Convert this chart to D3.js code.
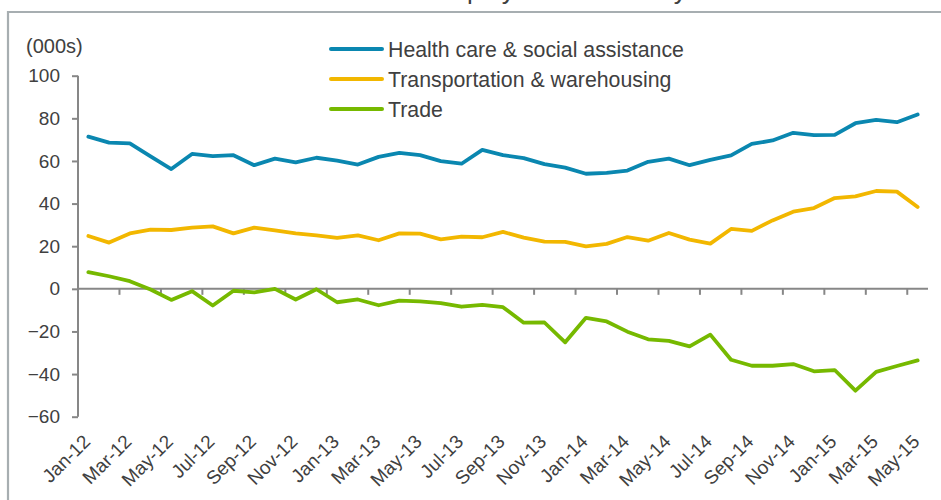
<!DOCTYPE html>
<html><head><meta charset="utf-8">
<script src="https://cdn.jsdelivr.net/npm/d3@7"></script>
<style>html,body{margin:0;padding:0;background:#fff;} svg{display:block;font-family:"Liberation Sans",Arial,sans-serif;}</style>
</head><body><svg id="c" width="941" height="500"></svg>
<script>
const categories = ["Jan-12","Feb-12","Mar-12","Apr-12","May-12","Jun-12","Jul-12","Aug-12","Sep-12","Oct-12","Nov-12","Dec-12",
"Jan-13","Feb-13","Mar-13","Apr-13","May-13","Jun-13","Jul-13","Aug-13","Sep-13","Oct-13","Nov-13","Dec-13",
"Jan-14","Feb-14","Mar-14","Apr-14","May-14","Jun-14","Jul-14","Aug-14","Sep-14","Oct-14","Nov-14","Dec-14",
"Jan-15","Feb-15","Mar-15","Apr-15","May-15"];
const health = [71.4,68.6,68.2,62.1,56.2,63.3,62.3,62.7,58.0,61.1,59.3,61.5,60.1,58.3,61.9,63.8,62.7,59.9,58.7,65.2,62.7,61.3,58.5,56.9,54.0,54.4,55.5,59.6,61.1,58.0,60.5,62.6,68.0,69.6,73.2,72.1,72.2,77.7,79.3,78.2,81.8];
const transport = [24.8,21.7,26.0,27.8,27.6,28.7,29.3,26.0,28.7,27.4,26.0,25.1,23.9,25.1,22.8,26.0,25.9,23.2,24.5,24.2,26.7,24.0,22.1,22.0,19.9,21.1,24.3,22.6,26.2,23.1,21.2,28.1,27.2,32.1,36.2,37.9,42.6,43.4,45.9,45.6,38.4];
const trade = [7.8,5.9,3.6,-0.3,-5.2,-1.1,-7.8,-0.9,-1.7,0.0,-5.0,-0.2,-6.3,-5.0,-7.7,-5.5,-5.9,-6.7,-8.4,-7.5,-8.6,-15.9,-15.8,-25.1,-13.6,-15.3,-20.1,-23.7,-24.4,-27.0,-21.5,-33.3,-36.1,-36.1,-35.3,-38.7,-38.1,-47.8,-39.0,-36.2,-33.6];
const seriesNames = ["Health care & social assistance","Transportation & warehousing","Trade"];
const seriesColors = ["#0a87b0","#f2b700","#76b900"];
const yTicks = [-60,-40,-20,0,20,40,60,80,100];
const yUnit = "(000s)";
const title = "Employment trends by sector";

const svg = d3.select("#c");
const L = 78, R = 928, T = 75.7, B = 416.7;
const x = d3.scaleBand().domain(categories).range([L, R]).padding(0);
const cx = d => x(d) + x.bandwidth()/2;
const y = d3.scaleLinear().domain([-60, 100]).range([B, T]);
const axisColor = "#878787", textColor = "#404040";

// title (mostly cut off at top, as in the reference)
svg.append("text").attr("x", 428).attr("y", -1.5).attr("font-size", 26).attr("fill", textColor).text(title);

// frame
svg.append("path").attr("d", "M8,500 L8,12 L941,12").attr("fill", "none").attr("stroke", "#a7aeb1").attr("stroke-width", 2.2);

// y axis
const ya = svg.append("g").attr("transform", `translate(${L},0)`)
  .call(d3.axisLeft(y).tickValues(yTicks).tickSize(6).tickPadding(12).tickFormat(d3.format("d")));
ya.select(".domain").attr("stroke", axisColor).attr("stroke-width", 2).attr("d", `M0,${T}V${B}`);
ya.selectAll(".tick line").attr("stroke", axisColor).attr("stroke-width", 2);
ya.selectAll(".tick text").attr("fill", textColor).attr("font-size", 19).attr("font-family", '"Liberation Sans",Arial,sans-serif');

svg.append("text").attr("x", 26).attr("y", 53).attr("font-size", 20).attr("fill", textColor).text(yUnit);

// x axis at zero
const y0 = y(0);
svg.append("line").attr("x1", L).attr("x2", R).attr("y1", y0).attr("y2", y0).attr("stroke", axisColor).attr("stroke-width", 2);
const labelCats = categories.filter((d, i) => i % 2 === 0);
svg.append("g").selectAll("line").data(labelCats.slice(1)).join("line")
  .attr("x1", d => x(d)).attr("x2", d => x(d)).attr("y1", y0).attr("y2", y0 + 6)
  .attr("stroke", axisColor).attr("stroke-width", 2);
svg.append("g").selectAll("text").data(labelCats).join("text")
  .attr("transform", d => `translate(${cx(d) + 3},${B + 26}) rotate(-45)`)
  .attr("text-anchor", "end").attr("font-size", 19).attr("fill", textColor).text(d => d);

// lines
const line = d3.line().x((d, i) => cx(categories[i])).y(d => y(d));
[health, transport, trade].forEach((s, k) => {
  svg.append("path").datum(s).attr("d", line).attr("fill", "none")
    .attr("stroke", seriesColors[k]).attr("stroke-width", 3.8).attr("stroke-linejoin", "round").attr("stroke-linecap", "round");
});

// legend
seriesNames.forEach((n, k) => {
  const ly = 49 + k * 30;
  svg.append("line").attr("x1", 331).attr("x2", 382).attr("y1", ly).attr("y2", ly)
    .attr("stroke", seriesColors[k]).attr("stroke-width", 4).attr("stroke-linecap", "round");
  svg.append("text").attr("x", 388).attr("y", ly + 7.5).attr("font-size", 21.3).attr("fill", textColor).text(n);
});
</script></body></html>
